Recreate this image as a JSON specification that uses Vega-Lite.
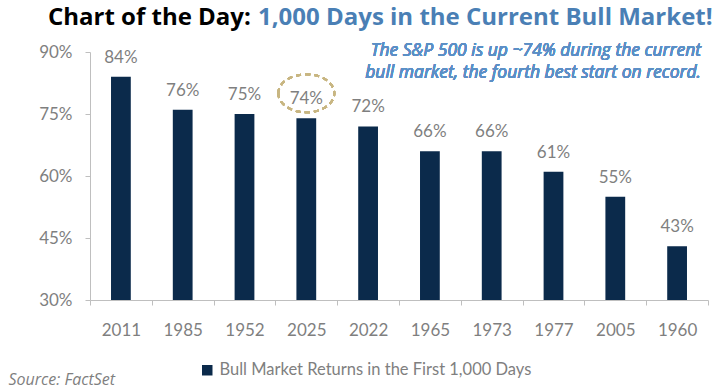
{
  "$schema": "https://vega.github.io/schema/vega-lite/v6.json",
  "width": 618,
  "height": 248,
  "autosize": {"type": "none"},
  "padding": {"left": 90, "top": 52, "right": 9, "bottom": 88},
  "background": "white",
  "config": {"view": {"stroke": null}, "font": "Lato"},
  "title": {
    "text": "Chart of the Day:",
    "subtitle": "1,000 Days in the Current Bull Market!",
    "anchor": "start",
    "frame": "group",
    "dx": -42,
    "font": "Open Sans",
    "fontSize": 24,
    "fontWeight": "bold",
    "color": "#000000",
    "subtitleFont": "Open Sans",
    "subtitleColor": "#4a7fb5",
    "subtitleFontSize": 24,
    "subtitleFontWeight": "bold",
    "subtitlePadding": -24,
    "offset": 12,
    "encode": {"subtitle": {"update": {"dx": {"value": 168}, "fontWeight": {"value": "bold"}, "fontSize": {"value": 24}}}}
  },
  "data": {
    "values": [
      {"year": "2011", "value": 0.84, "series": "Bull Market Returns in the First 1,000 Days"},
      {"year": "1985", "value": 0.76, "series": "Bull Market Returns in the First 1,000 Days"},
      {"year": "1952", "value": 0.75, "series": "Bull Market Returns in the First 1,000 Days"},
      {"year": "2025", "value": 0.74, "series": "Bull Market Returns in the First 1,000 Days"},
      {"year": "2022", "value": 0.72, "series": "Bull Market Returns in the First 1,000 Days"},
      {"year": "1965", "value": 0.66, "series": "Bull Market Returns in the First 1,000 Days"},
      {"year": "1973", "value": 0.66, "series": "Bull Market Returns in the First 1,000 Days"},
      {"year": "1977", "value": 0.61, "series": "Bull Market Returns in the First 1,000 Days"},
      {"year": "2005", "value": 0.55, "series": "Bull Market Returns in the First 1,000 Days"},
      {"year": "1960", "value": 0.43, "series": "Bull Market Returns in the First 1,000 Days"}
    ]
  },
  "layer": [
    {
      "mark": {"type": "bar", "width": {"band": 0.32}},
      "encoding": {
        "x": {
          "field": "year",
          "type": "nominal",
          "sort": null,
          "scale": {"paddingInner": 0, "paddingOuter": 0},
          "axis": {
            "title": "Source: FactSet",
            "tickBand": "extent",
            "labelAngle": 0,
            "domainColor": "#bfbfbf",
            "tickColor": "#bfbfbf",
            "tickSize": 5,
            "labelColor": "#7f7f7f",
            "labelFont": "Lato",
            "labelFontSize": 17,
            "labelPadding": 17,
            "titleX": -82,
            "titleY": 79,
            "titleAlign": "left",
            "titleBaseline": "middle",
            "titleFont": "Open Sans",
            "titleFontStyle": "italic",
            "titleFontWeight": "normal",
            "titleFontSize": 16,
            "titleColor": "#7f7f7f"
          }
        },
        "y": {
          "field": "value",
          "type": "quantitative",
          "scale": {"domain": [0.3, 0.9], "nice": false, "zero": false},
          "axis": {
            "title": null,
            "values": [0.3, 0.45, 0.6, 0.75, 0.9],
            "format": ".0%",
            "grid": false,
            "domainColor": "#bfbfbf",
            "tickColor": "#bfbfbf",
            "tickSize": 5,
            "labelColor": "#7f7f7f",
            "labelFont": "Lato",
            "labelFontSize": 17,
            "labelPadding": 13
          }
        },
        "y2": {"datum": 0.3},
        "color": {
          "field": "series",
          "type": "nominal",
          "scale": {"range": ["#0b2a4b"]},
          "legend": {
            "title": null,
            "orient": "none",
            "legendX": 109,
            "legendY": 310,
            "symbolType": "square",
            "symbolSize": 110,
            "symbolStrokeWidth": 0,
            "labelFont": "Lato",
            "labelFontSize": 16.5,
            "labelColor": "#7f7f7f",
            "labelOffset": 4,
            "labelLimit": 0
          }
        }
      }
    },
    {
      "mark": {"type": "text", "baseline": "alphabetic", "dy": -14, "fontSize": 17, "color": "#7f7f7f", "font": "Lato"},
      "encoding": {
        "x": {"field": "year", "type": "nominal", "sort": null},
        "y": {"field": "value", "type": "quantitative"},
        "text": {"field": "value", "format": ".0%"}
      }
    },
    {
      "mark": {
        "type": "point",
        "shape": "M-1,0A1,0.68,0,1,1,1,0A1,0.68,0,1,1,-1,0Z",
        "size": 3136,
        "filled": false,
        "stroke": "#c8b682",
        "strokeWidth": 2,
        "strokeDash": [5, 4],
        "opacity": 1,
        "clip": false
      },
      "encoding": {
        "x": {"datum": "2025"},
        "y": {"datum": 0.80}
      }
    },
    {
      "mark": {
        "type": "text",
        "align": "right",
        "baseline": "alphabetic",
        "fontStyle": "italic",
        "fontWeight": "normal",
        "fontSize": 17.5,
        "lineHeight": 22,
        "color": "#5b8fc6",
        "font": "Open Sans",
        "dx": -7
      },
      "encoding": {
        "x": {"datum": "1960", "bandPosition": 1},
        "y": {"datum": 0.89},
        "text": {"value": ["The S&P 500 is up ~74% during the current", "bull market, the fourth best start on record."]}
      }
    }
  ]
}
